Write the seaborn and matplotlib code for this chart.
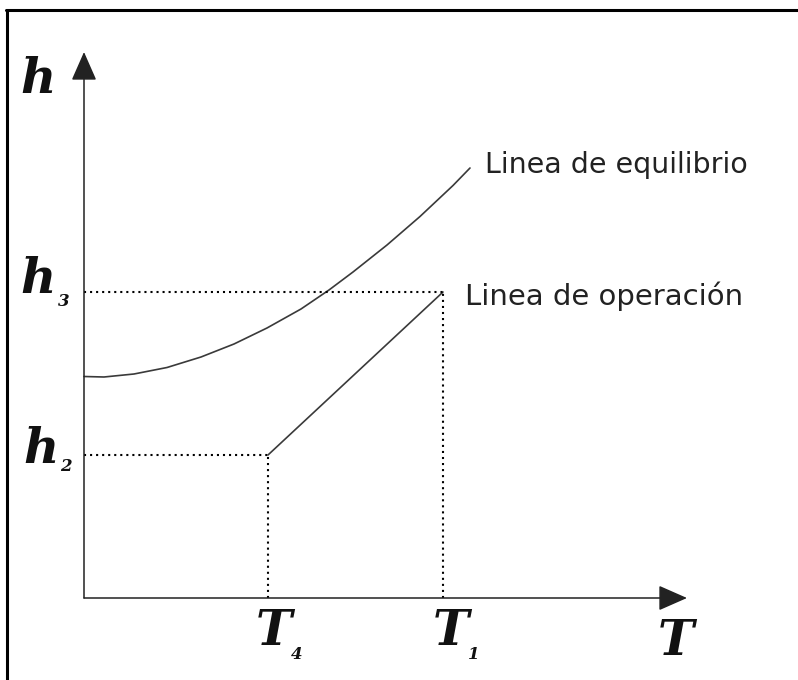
import matplotlib.pyplot as plt
import seaborn as sns
from matplotlib.lines import Line2D

# Datos (unidades arbitrarias)
T_equilibrio = [0.0, 0.40, 1.00, 1.66, 2.34, 3.00, 3.66, 4.34, 4.90, 5.38, 6.06, 6.72, 7.38, 7.72]
h_equilibrio = [4.43, 4.42, 4.48, 4.61, 4.82, 5.08, 5.40, 5.78, 6.16, 6.52, 7.06, 7.63, 8.25, 8.60]
T4, T1 = 3.68, 7.18
h2, h3 = 2.86, 6.12
T_operacion = [T4, T1]
h_operacion = [h2, h3]
T_max, h_max = 12.06, 10.92

sns.set_style("white")
plt.rcParams['font.family'] = ['DejaVu Sans']

fig = plt.figure(figsize=(7.98, 6.8), dpi=100)
ax = fig.add_axes([0, 0, 1, 1])
ax.set_xlim(-1.68, 14.28)
ax.set_ylim(-1.64, 11.96)
ax.axis('off')

# Curvas
sns.lineplot(x=T_equilibrio, y=h_equilibrio, ax=ax, color='#3a3a3a', lw=1.2)
sns.lineplot(x=T_operacion, y=h_operacion, ax=ax, color='#3a3a3a', lw=1.2)

# Lineas punteadas
punteado = dict(color='black', lw=1.5, linestyle=(0, (1, 1.9)))
ax.plot([0, T1], [h3, h3], **punteado)
ax.plot([T1, T1], [0, h3], **punteado)
ax.plot([0, T4], [h2, h2], **punteado)
ax.plot([T4, T4], [0, h2], **punteado)

# Ejes con flechas
flecha = dict(arrowstyle='-|>,head_length=0.5,head_width=0.22', color='#222222',
              lw=1.1, mutation_scale=36, shrinkA=0, shrinkB=0)
ax.annotate('', xy=(0, h_max), xytext=(0, 0), arrowprops=flecha)
ax.annotate('', xy=(T_max, 0), xytext=(0, 0), arrowprops=flecha)

# Etiquetas
letra = dict(family='DejaVu Serif', weight='bold', style='italic',
             fontsize=35, ha='center', va='baseline', color='#111111')
sub = dict(family='DejaVu Serif', weight='bold', style='italic',
           fontsize=12, ha='center', va='baseline', color='#111111')
ax.text(-0.92, 10.10, 'h', **letra)
ax.text(-0.92, 6.10, 'h', **letra)
ax.text(-0.40, 5.84, '3', **sub)
ax.text(-0.86, 2.70, 'h', **letra)
ax.text(-0.36, 2.54, '2', **sub)
ax.text(3.80, -0.94, 'T', **letra)
ax.text(4.26, -1.22, '4', **sub)
ax.text(7.34, -0.94, 'T', **letra)
ax.text(7.80, -1.22, '1', **sub)
ax.text(11.84, -1.14, 'T', **letra)

ax.text(8.02, 8.50, 'Linea de equilibrio', fontsize=20.5, ha='left',
        va='baseline', color='#222222')
ax.text(7.62, 5.86, 'Linea de operación', fontsize=21, ha='left',
        va='baseline', color='#222222')

# Marco
fig.add_artist(Line2D([6 / 798, 1], [1 - 9.5 / 680, 1 - 9.5 / 680],
                      color='black', lw=2.2, transform=fig.transFigure))
fig.add_artist(Line2D([6.5 / 798, 6.5 / 798], [0, 1 - 9.5 / 680],
                      color='black', lw=2.2, transform=fig.transFigure))

fig.savefig('out.png', dpi=100)
